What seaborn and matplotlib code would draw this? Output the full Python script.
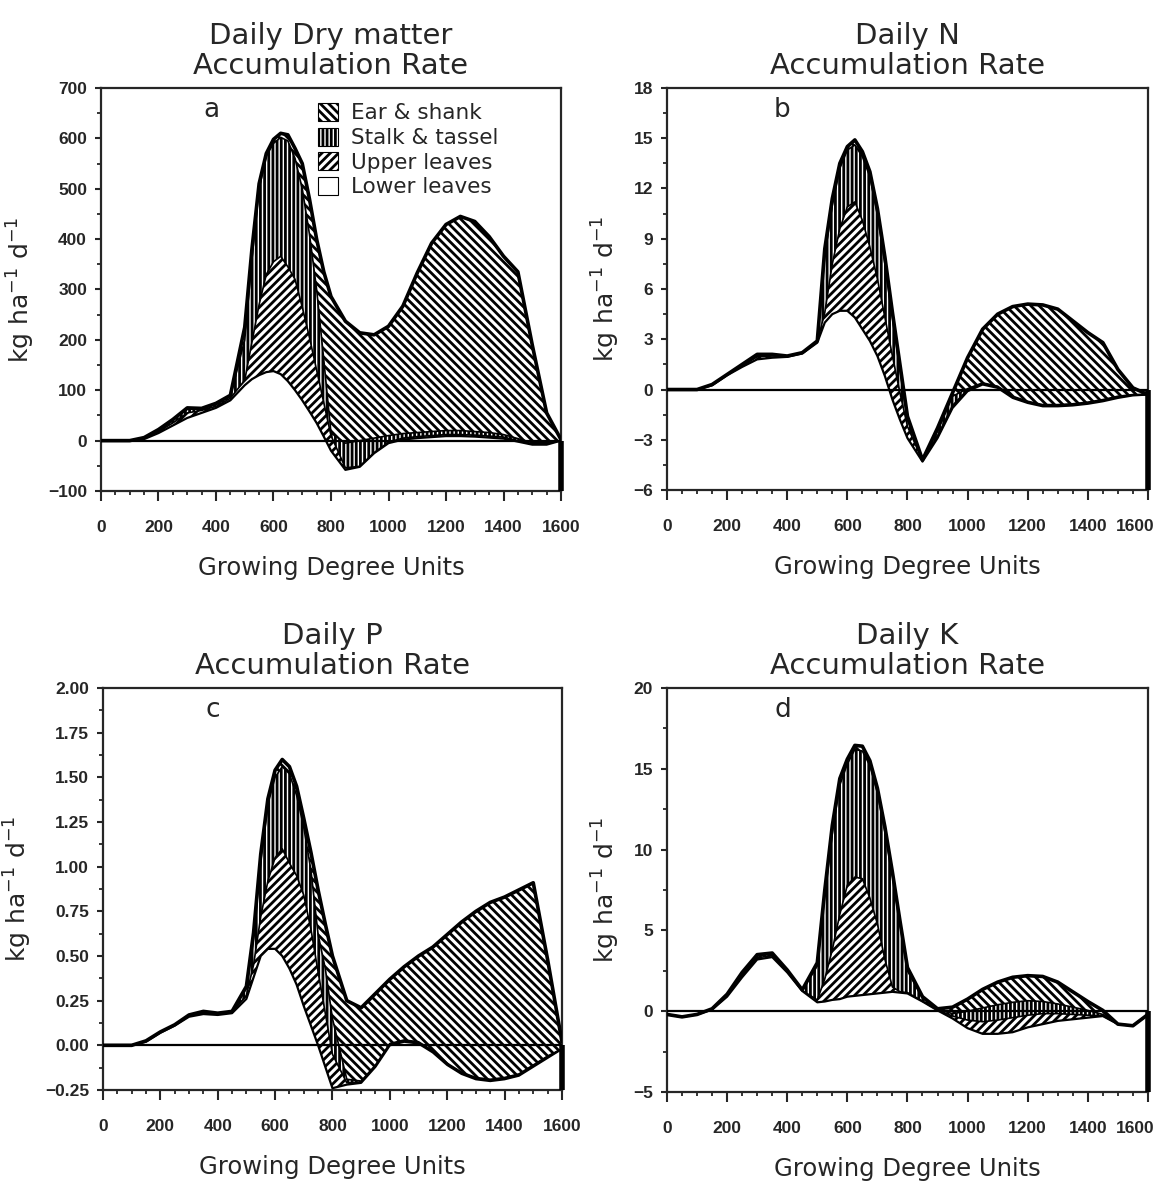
import numpy as np
import matplotlib
matplotlib.use("Agg")
import matplotlib.pyplot as plt
from matplotlib.patches import Patch
from matplotlib.ticker import MultipleLocator, FuncFormatter
from matplotlib.transforms import ScaledTranslation
import seaborn as sns

gdu = [0, 50, 100, 150, 200, 250, 300, 350, 400, 450, 500,
       525, 550, 575, 600, 625, 650, 675, 700, 725, 750, 775,
       800, 850, 900, 950, 1000, 1050, 1100, 1150, 1200, 1250, 1300, 1350, 1400,
       1450, 1500, 1550, 1600]

# stacked boundaries: lower leaves, + upper leaves, + stalk & tassel, + ear & shank
dm_lower = [0, 0, 0, 3, 15, 30, 45, 55, 65, 80, 110,
            122, 130, 136, 138, 132, 118, 100, 80, 58, 35, 8,
            -20, -58, -52, -25, -5, 2, 5, 7, 9, 9, 8, 6, 4, -2, -8, -8, 0]
dm_upper = [0, 0, 0, 4, 18, 35, 55, 60, 68, 84, 120,
            195, 270, 330, 355, 366, 345, 320, 265, 205, 140, 75,
            10, -54, -51, -24, -3, 5, 8, 10, 12, 12, 11, 9, 7, 0, -6, -6, 0]
dm_stalk = [0, 0, 0, 5, 20, 40, 62, 63, 72, 88, 200,
            360, 500, 565, 590, 602, 595, 560, 500, 410, 300, 160,
            15, -5, 0, 5, 10, 14, 16, 18, 20, 20, 18, 16, 12, 4, -4, -4, 0]
dm_total = [0, 0, 0, 6, 22, 42, 65, 64, 74, 90, 225,
            380, 510, 570, 598, 610, 607, 580, 550, 480, 400, 335,
            286, 237, 214, 210, 227, 267, 333, 392, 429, 445, 435, 405, 366, 335, 190, 55, 2]

n_lower = [0, 0, 0, 0.25, 0.85, 1.35, 1.8, 1.9, 1.95, 2.15, 2.8,
           4.0, 4.5, 4.7, 4.7, 4.3, 3.6, 2.9, 2.0, 0.8, -0.6, -1.8,
           -2.9, -4.3, -2.9, -1.1, -0.1, 0.3, 0.1, -0.5, -0.8, -1.0, -1.0, -0.95, -0.85,
           -0.7, -0.5, -0.35, -0.3]
n_upper = [0, 0, 0, 0.27, 0.88, 1.4, 1.95, 2.0, 1.97, 2.17, 2.85,
           4.6, 7.5, 9.6, 10.9, 11.2, 10.1, 8.5, 6.6, 4.3, 2.0, -0.2,
           -2.2, -4.25, -2.75, -0.95, 0.0, 0.35, 0.15, -0.45, -0.75, -0.95, -0.95, -0.9,
           -0.8, -0.65, -0.45, -0.32, -0.3]
n_stalk = [0, 0, 0, 0.28, 0.89, 1.45, 2.05, 2.08, 1.98, 2.18, 2.87,
           8.0, 11.0, 13.2, 14.3, 14.6, 13.9, 12.7, 10.4, 7.5, 4.3, 1.2,
           -1.8, -4.22, -2.5, -0.4, 0.05, 0.4, 0.2, -0.4, -0.7, -0.9, -0.9, -0.85,
           -0.75, -0.6, -0.4, -0.3, -0.3]
n_total = [0, 0, 0, 0.3, 0.9, 1.5, 2.1, 2.1, 2.0, 2.2, 2.9,
           8.4, 11.4, 13.5, 14.5, 14.9, 14.2, 13.0, 10.8, 7.9, 4.6, 1.5,
           -1.6, -4.2, -2.3, -0.2, 1.9, 3.6, 4.5, 4.95, 5.1, 5.05, 4.8, 4.1, 3.4, 2.8,
           1.2, 0.1, -0.3]

p_lower = [0, 0, 0, 0.02, 0.07, 0.11, 0.16, 0.175, 0.17, 0.18, 0.26,
           0.38, 0.50, 0.54, 0.54, 0.50, 0.43, 0.34, 0.22, 0.11, 0.0, -0.12,
           -0.24, -0.22, -0.21, -0.12, 0.0, 0.02, 0.01, -0.04, -0.11, -0.16, -0.19,
           -0.2, -0.19, -0.17, -0.12, -0.07, -0.02]
p_upper = [0, 0, 0, 0.022, 0.073, 0.113, 0.165, 0.18, 0.175, 0.185, 0.28,
           0.45, 0.72, 0.92, 1.05, 1.10, 1.02, 0.95, 0.84, 0.65, 0.41, 0.18,
           -0.05, -0.21, -0.205, -0.115, 0.005, 0.025, 0.015, -0.035, -0.105, -0.155,
           -0.185, -0.195, -0.185, -0.165, -0.115, -0.065, -0.02]
p_stalk = [0, 0, 0, 0.024, 0.075, 0.115, 0.168, 0.185, 0.178, 0.188, 0.32,
           0.6, 1.03, 1.35, 1.5, 1.56, 1.52, 1.4, 1.22, 0.98, 0.62, 0.43,
           0.15, -0.19, -0.2, -0.11, 0.01, 0.03, 0.02, -0.03, -0.1, -0.15, -0.18,
           -0.19, -0.18, -0.16, -0.11, -0.06, -0.02]
p_total = [0, 0, 0, 0.025, 0.075, 0.115, 0.17, 0.19, 0.18, 0.19, 0.33,
           0.63, 1.07, 1.38, 1.54, 1.6, 1.56, 1.45, 1.27, 1.08, 0.87, 0.68,
           0.5, 0.25, 0.21, 0.29, 0.37, 0.44, 0.5, 0.55, 0.62, 0.69, 0.75, 0.8, 0.83,
           0.87, 0.91, 0.48, 0.02]

k_lower = [-0.2, -0.35, -0.2, 0.1, 0.9, 2.1, 3.2, 3.35, 2.4, 1.25, 0.55,
           0.6, 0.7, 0.75, 0.9, 0.95, 1.0, 1.05, 1.1, 1.15, 1.2, 1.15,
           1.1, 0.6, 0.05, -0.45, -1.05, -1.4, -1.4, -1.3, -1.0, -0.8, -0.6, -0.5, -0.4,
           -0.3, -0.8, -0.9, -0.2]
k_upper = [-0.2, -0.35, -0.2, 0.12, 0.95, 2.2, 3.3, 3.45, 2.45, 1.28, 0.7,
           2.0, 3.8, 6.0, 7.8, 8.3, 8.2, 7.0, 5.4, 3.2, 1.5, 1.2,
           1.15, 0.62, 0.07, -0.3, -0.55, -0.65, -0.55, -0.4, -0.25, -0.15, -0.15, -0.2,
           -0.25, -0.28, -0.8, -0.9, -0.2]
k_stalk = [-0.2, -0.35, -0.2, 0.13, 1.0, 2.3, 3.4, 3.55, 2.5, 1.3, 2.8,
           7.2, 11.0, 14.0, 15.3, 16.2, 16.1, 15.2, 13.5, 11.1, 8.4, 5.4,
           2.5, 0.8, 0.12, -0.15, 0.0, 0.2, 0.4, 0.55, 0.65, 0.6, 0.45, 0.25, 0.05,
           -0.2, -0.8, -0.9, -0.2]
k_total = [-0.2, -0.35, -0.2, 0.15, 1.05, 2.4, 3.5, 3.6, 2.55, 1.32, 3.0,
           7.5, 11.5, 14.4, 15.6, 16.45, 16.4, 15.5, 13.8, 11.4, 8.6, 5.6,
           2.7, 0.9, 0.15, 0.25, 0.75, 1.35, 1.8, 2.1, 2.2, 2.15, 1.8, 1.2, 0.6,
           0.05, -0.8, -0.9, -0.2]

legend_labels = ["Ear & shank", "Stalk & tassel", "Upper leaves", "Lower leaves"]
HATCH_EAR   = "\\\\\\\\"
HATCH_STALK = "||||"
HATCH_UPPER = "////"
TEXT_FONT = ["DejaVu Sans"]
TICK_FONT = ["Liberation Sans", "DejaVu Sans"]

sns.set_theme(style="ticks")
plt.rcParams["font.family"] = ["Liberation Sans", "DejaVu Sans"]
plt.rcParams["mathtext.fontset"] = "dejavusans"
plt.rcParams["mathtext.default"] = "regular"
plt.rcParams["hatch.color"] = "black"
plt.rcParams["hatch.linewidth"] = 2.0
plt.rcParams["axes.linewidth"] = 1.6

panels = [
    ("Daily Dry matter\nAccumulation Rate", "a", dm_lower, dm_upper, dm_stalk, dm_total,
     (-100, 700), 100, 50, "{:.0f}", [0.0869, 0.5853, 0.3959, 0.3404]),
    ("Daily N\nAccumulation Rate", "b", n_lower, n_upper, n_stalk, n_total,
     (-6, 18), 3, 1.5, "{:.0f}", [0.5740, 0.5861, 0.4139, 0.3396]),
    ("Daily P\nAccumulation Rate", "c", p_lower, p_upper, p_stalk, p_total,
     (-0.25, 2.0), 0.25, 0.125, "{:.2f}", [0.0886, 0.0794, 0.3950, 0.3395]),
    ("Daily K\nAccumulation Rate", "d", k_lower, k_upper, k_stalk, k_total,
     (-5, 20), 5, 2.5, "{:.0f}", [0.5740, 0.0777, 0.4139, 0.3412]),
]


def tick_fmt(fmt):
    def f(v, pos):
        if abs(v) < 1e-9:
            v = 0.0
        return fmt.format(v).replace("-", "\u2212")
    return FuncFormatter(f)


fig = plt.figure(figsize=(11.62, 11.84), dpi=100)

for title, letter, lower, upper, stalk, total, ylim, major, minor, fmt, rect in panels:
    ax = fig.add_axes(rect)
    x = np.array(gdu, dtype=float)
    lo, up, st, tot = (np.array(v, dtype=float) for v in (lower, upper, stalk, total))

    ax.fill_between(x, 0, lo, facecolor="white", edgecolor="none", zorder=1)
    ax.fill_between(x, lo, up, facecolor="white", edgecolor="black",
                    hatch=HATCH_UPPER, linewidth=0, zorder=2)
    ax.fill_between(x, up, st, facecolor="white", edgecolor="black",
                    hatch=HATCH_STALK, linewidth=0, zorder=2)
    ax.fill_between(x, st, tot, facecolor="white", edgecolor="black",
                    hatch=HATCH_EAR, linewidth=0, zorder=2)
    ax.axhline(0, color="black", lw=1.6, zorder=3)
    for yy, lw in ((lo, 1.6), (up, 1.2), (st, 1.2), (tot, 2.6)):
        sns.lineplot(x=x, y=yy, ax=ax, color="black", linewidth=lw, zorder=4)

    ax.set_xlim(gdu[0], gdu[-1])
    ax.set_ylim(*ylim)
    # heavy right edge below the zero line
    ax.vlines(gdu[-1], ylim[0], 0, color="black", lw=4, zorder=5, clip_on=False)

    ax.xaxis.set_major_locator(MultipleLocator(200))
    ax.xaxis.set_minor_locator(MultipleLocator(50))
    ax.yaxis.set_major_locator(MultipleLocator(major))
    ax.yaxis.set_minor_locator(MultipleLocator(minor))
    ax.yaxis.set_major_formatter(tick_fmt(fmt))
    ax.tick_params(axis="x", which="major", direction="out", length=7, width=1.5,
                   pad=14, labelsize=12.5)
    ax.tick_params(axis="y", which="major", direction="out", length=4, width=1.5,
                   pad=6, labelsize=12.5)
    ax.tick_params(which="minor", direction="out", length=3, width=1.3)
    for sp in ax.spines.values():
        sp.set_visible(True)
        sp.set_linewidth(1.6)

    ax.set_title(title, fontsize=21, pad=10, linespacing=1.1, family=TEXT_FONT)
    ax.set_xlabel("Growing Degree Units", fontsize=17.5, labelpad=15, family=TEXT_FONT)
    ax.set_ylabel(r"kg ha$^{-1}$ d$^{-1}$", fontsize=18, labelpad=8, family=TEXT_FONT)
    ax.text(0.24, 0.945, letter, transform=ax.transAxes, fontsize=19,
            ha="center", va="center", zorder=6, family=TEXT_FONT)

    if letter == "a":
        handles = [
            Patch(facecolor="white", edgecolor="black", hatch=HATCH_EAR, lw=0.8),
            Patch(facecolor="white", edgecolor="black", hatch=HATCH_STALK, lw=0.8),
            Patch(facecolor="white", edgecolor="black", hatch=HATCH_UPPER, lw=0.8),
            Patch(facecolor="white", edgecolor="black", lw=0.8),
        ]
        ax.legend(handles, legend_labels, loc="upper left", bbox_to_anchor=(0.44, 1.0),
                  frameon=False, handlelength=0.9, handleheight=0.9,
                  handletextpad=0.6, labelspacing=0.2, borderaxespad=0.3,
                  prop={"family": TEXT_FONT, "size": 15.5})

    labels = ax.get_xticklabels() + ax.get_yticklabels()
    for lab in labels:
        lab.set_fontweight("bold")
        lab.set_family(TICK_FONT)
    if letter in ("b", "d"):
        # the last label sits a little left of its tick, as in the print
        for lab in ax.get_xticklabels():
            if lab.get_text() == "1600":
                lab.set_transform(lab.get_transform()
                                  + ScaledTranslation(-0.13, 0, fig.dpi_scale_trans))

fig.savefig("out.png", dpi=100)
plt.close(fig)
